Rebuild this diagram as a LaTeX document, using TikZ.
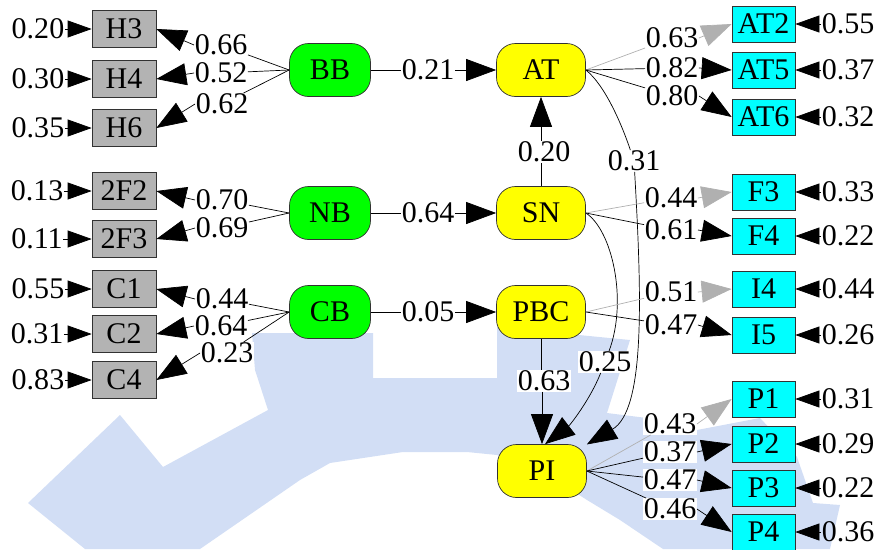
\documentclass[tikz,border=0pt]{standalone}
\usepackage{fontspec}
\setmainfont{Liberation Serif}
\usetikzlibrary{arrows.meta}
\definecolor{wm}{RGB}{210,222,245}
\definecolor{boxgray}{RGB}{179,179,179}
\definecolor{edgegray}{RGB}{176,176,176}
\definecolor{bord}{RGB}{50,50,50}
\definecolor{lgreen}{RGB}{0,255,0}
\definecolor{lyellow}{RGB}{255,255,0}
\definecolor{lcyan}{RGB}{0,255,255}
\begin{document}
\begin{tikzpicture}[x=1pt,y=-1pt,
 every node/.style={font=\fontsize{30}{30}\selectfont},
 lv/.style={draw=bord, line width=0.7pt, rounded corners=19pt, minimum height=53pt, inner sep=0pt},
 gl/.style={lv, fill=lgreen, minimum width=81pt},
 yl/.style={lv, fill=lyellow, minimum width=89pt},
 gbox/.style={draw=bord, line width=0.7pt, fill=boxgray, minimum width=64pt, minimum height=37pt, inner sep=0pt},
 cbox/.style={draw=bord, line width=0.7pt, fill=lcyan, minimum width=63pt, minimum height=36pt, inner sep=0pt},
 lab/.style={fill=white, inner sep=0.5pt},
 elab/.style={inner sep=0.5pt},
 ln/.style={line width=0.7pt, draw=black},
 gln/.style={line width=0.7pt, draw=edgegray},
 big/.style={ln, -{Triangle[length=30pt,width=22pt]}},
 gbig/.style={gln, -{Triangle[length=30pt,width=22pt]}},
 sml/.style={ln, -{Triangle[length=24pt,width=17pt]}}
]
\useasboundingbox (0,0) rectangle (880,549);
% watermark
\fill[wm] (85,549) -- (28,503) -- (120,415) -- (163,467) -- (268,410) -- (255,370) -- (252,333) -- (373,333) -- (373,378) -- (497,378) -- (497,327) -- (630,340) -- (607,413) -- (663,420) -- (697,430) -- (760,418) -- (797,457) -- (813,503) -- (840,505) -- (830,549) -- (663,549) -- (620,520) -- (587,500) -- (540,470) -- (497,455) -- (467,452) -- (403,452) -- (330,463) -- (300,480) -- (200,549) -- cycle;

% indicator boxes left
\node[gbox] (H3) at (124,29) {H3};
\node[gbox] (H4) at (124,79) {H4};
\node[gbox] (H6) at (124,128) {H6};
\node[gbox] (F22) at (124,191) {2F2};
\node[gbox] (F23) at (124,239) {2F3};
\node[gbox] (C1) at (124,289) {C1};
\node[gbox] (C2) at (124,334) {C2};
\node[gbox] (C4) at (124,380) {C4};

% latent
\node[gl] (BB) at (330,70) {BB};
\node[gl] (NB) at (330,213) {NB};
\node[gl] (CB) at (330,312) {CB};
\node[yl] (AT) at (541,70) {AT};
\node[yl] (SN) at (541,213) {SN};
\node[yl] (PBC) at (541,312) {PBC};
\node[yl] (PI) at (542,471) {PI};

% indicator boxes right
\node[cbox] (AT2) at (763.5,24) {AT2};
\node[cbox] (AT5) at (763.5,70) {AT5};
\node[cbox] (AT6) at (763.5,117) {AT6};
\node[cbox] (F3) at (763.5,192) {F3};
\node[cbox] (F4) at (763.5,236) {F4};
\node[cbox] (I4) at (763.5,289) {I4};
\node[cbox] (I5) at (763.5,335) {I5};
\node[cbox] (P1) at (763.5,399) {P1};
\node[cbox] (P2) at (763.5,444) {P2};
\node[cbox] (P3) at (763.5,488) {P3};
\node[cbox] (P4) at (763.5,532) {P4};

% error labels left
\node[elab] (eH3) at (38,29) {0.20};
\node[elab] (eH4) at (38,79) {0.30};
\node[elab] (eH6) at (38,128) {0.35};
\node[elab] (eF22) at (37,191) {0.13};
\node[elab] (eF23) at (37,239) {0.11};
\node[elab] (eC1) at (38,289) {0.55};
\node[elab] (eC2) at (37,334) {0.31};
\node[elab] (eC4) at (38,380) {0.83};
\foreach \b in {H3,H4,H6,F22,F23,C1,C2,C4} \draw[sml] (e\b) -- (\b);

% error labels right
\node[elab] (eAT2) at (848,24) {0.55};
\node[elab] (eAT5) at (848,70) {0.37};
\node[elab] (eAT6) at (848,117) {0.32};
\node[elab] (eF3) at (848,192) {0.33};
\node[elab] (eF4) at (848,236) {0.22};
\node[elab] (eI4) at (848,289) {0.44};
\node[elab] (eI5) at (848,335) {0.26};
\node[elab] (eP1) at (848,399) {0.31};
\node[elab] (eP2) at (848,444) {0.29};
\node[elab] (eP3) at (848,488) {0.22};
\node[elab] (eP4) at (848,532) {0.36};
\foreach \b in {AT2,AT5,AT6,F3,F4,I4,I5,P1,P2,P3,P4} \draw[sml] (e\b) -- (\b);

% left loadings
\node[lab] (l66) at (221,45) {0.66};
\node[lab] (l52) at (221,73) {0.52};
\node[lab] (l62) at (222,104) {0.62};
\node[lab] (l70) at (222,200) {0.70};
\node[lab] (l69) at (222,228) {0.69};
\node[lab] (l44a) at (222,299) {0.44};
\node[lab] (l64a) at (221,326) {0.64};
\node[lab] (l23) at (227,353) {0.23};
\draw[ln] (BB.west) -- (l66); \draw[big] (l66.west) -- (H3.east);
\draw[ln] (BB.west) -- (l52); \draw[big] (l52.west) -- (H4.east);
\draw[ln] (BB.west) -- (l62); \draw[big] (l62.west) -- (H6.east);
\draw[ln] (NB.west) -- (l70); \draw[big] (l70.west) -- (F22.east);
\draw[ln] (NB.west) -- (l69); \draw[big] (l69.west) -- (F23.east);
\draw[ln] (CB.west) -- (l44a); \draw[big] (l44a.west) -- (C1.east);
\draw[ln] (CB.west) -- (l64a); \draw[big] (l64a.west) -- (C2.east);
\draw[ln] (CB.west) -- (l23); \draw[big] (l23.west) -- (C4.east);

% structural paths
\node[lab] (l21) at (428,70) {0.21};
\node[lab] (l64b) at (428,213) {0.64};
\node[lab] (l05) at (428,312) {0.05};
\draw[ln] (BB) -- (l21); \draw[big] (l21) -- (AT);
\draw[ln] (NB) -- (l64b); \draw[big] (l64b) -- (SN);
\draw[ln] (CB) -- (l05); \draw[big] (l05) -- (PBC);

\node[lab] (l20) at (544,152) {0.20};
\draw[ln] (SN.north) -- (SN.north |- l20.south);
\draw[big] (AT.south |- l20.north) -- (AT.south);

\node[lab] (l63b) at (544,381) {0.63};
\draw[ln] (PBC.south) -- (PBC.south |- l63b.north);
\draw[big] (PI.north |- l63b.south) -- (PI.north);

\node[lab] (l31) at (634,161) {0.31};
\draw[ln] (AT.east) .. controls (605,85) and (622,125) .. (l31);
\draw[big] (l31) .. controls (642,300) and (645,410) .. (PI);

\node[lab] (l25) at (605,362) {0.25};
\draw[ln] (SN.east) .. controls (612,230) and (628,300) .. (l25);
\draw[big] (l25) .. controls (590,400) and (570,425) .. ([xshift=3pt]PI.north);

% right loadings
\node[lab] (l63a) at (672,38) {0.63};
\node[lab] (l82) at (672,68) {0.82};
\node[lab] (l80) at (672,96) {0.80};
\node[lab] (l44b) at (671,198) {0.44};
\node[lab] (l61) at (671,230) {0.61};
\node[lab] (l51) at (671,292) {0.51};
\node[lab] (l47a) at (671,325) {0.47};
\node[lab] (l43) at (670,424) {0.43};
\node[lab] (l37) at (670,452) {0.37};
\node[lab] (l47b) at (670,480) {0.47};
\node[lab] (l46) at (670,509) {0.46};

\draw[gln] (AT.east) -- (l63a); \draw[gbig] (l63a.east) -- (AT2.west);
\draw[ln] (AT.east) -- (l82); \draw[big] (l82.east) -- (AT5.west);
\draw[ln] (AT.east) -- (l80); \draw[big] (l80.east) -- (AT6.west);
\draw[gln] (SN.east) -- (l44b); \draw[gbig] (l44b.east) -- (F3.west);
\draw[ln] (SN.east) -- (l61); \draw[big] (l61.east) -- (F4.west);
\draw[gln] (PBC.east) -- (l51); \draw[gbig] (l51.east) -- (I4.west);
\draw[ln] (PBC.east) -- (l47a); \draw[big] (l47a.east) -- (I5.west);
\draw[gln] (PI.east) -- (l43); \draw[gbig] (l43.east) -- (P1.west);
\draw[ln] (PI.east) -- (l37); \draw[big] (l37.east) -- (P2.west);
\draw[ln] (PI.east) -- (l47b); \draw[big] (l47b.east) -- (P3.west);
\draw[ln] (PI.east) -- (l46); \draw[big] (l46.east) -- (P4.west);
\end{tikzpicture}
\end{document}
